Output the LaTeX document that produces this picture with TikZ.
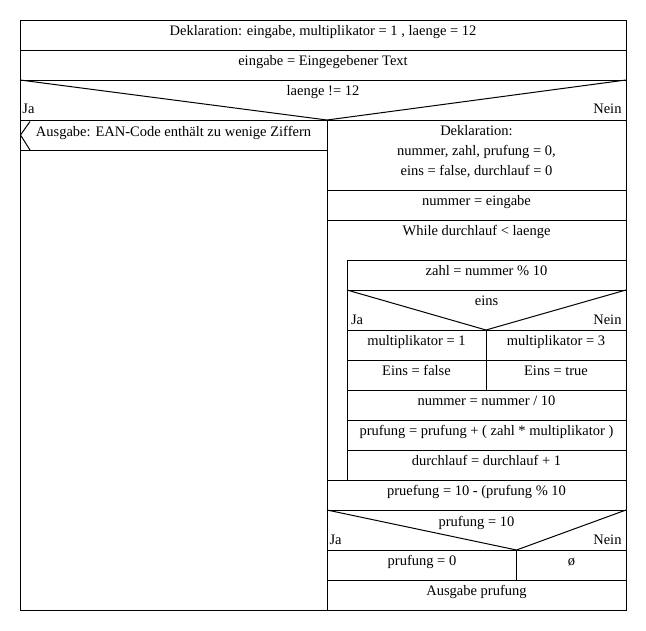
\documentclass[tikz,border=0pt]{standalone}
\usepackage{fontspec}
\setmainfont{Liberation Serif}
\begin{document}
\begin{tikzpicture}[x=1pt,y=-1pt,line width=1pt,
  txt/.style={anchor=base,inner sep=0pt,font=\fontsize{14.5}{17}\selectfont},
  ltxt/.style={txt,anchor=base west},
  rtxt/.style={txt,anchor=base east},
  ln/.style={draw=black,line width=1pt}]
\useasboundingbox (0,0) rectangle (646,630);
% outer frame and top rows
\draw[ln] (20,20) rectangle (626,610);
\draw[ln] (20,50) -- (626,50);
\draw[ln] (20,80) -- (626,80);
\draw[ln] (20,80) -- (327,120) -- (626,80);
\draw[ln] (20,120) -- (626,120);
\draw[ln] (327,120) -- (327,610);
\draw[ln] (20,150) -- (327,150);
\draw[ln] (30,121.5) -- (20.5,135) -- (30,150);
% right branch
\draw[ln] (327,190) -- (626,190);
\draw[ln] (327,220) -- (626,220);
% while body
\draw[ln] (347,260) -- (626,260);
\draw[ln] (347,260) -- (347,480);
\draw[ln] (347,290) -- (626,290);
\draw[ln] (347,290) -- (486,330) -- (626,290);
\draw[ln] (347,330) -- (626,330);
\draw[ln] (486,330) -- (486,390);
\draw[ln] (347,360) -- (626,360);
\draw[ln] (347,390) -- (626,390);
\draw[ln] (347,420) -- (626,420);
\draw[ln] (347,450) -- (626,450);
\draw[ln] (327,480) -- (626,480);
\draw[ln] (327,510) -- (626,510);
\draw[ln] (327,510) -- (516.5,550) -- (626,510);
\draw[ln] (327,550) -- (626,550);
\draw[ln] (516.5,550) -- (516.5,580);
\draw[ln] (327,580) -- (626,580);
% texts
\node[txt] (t1) at (323,35.5) {Deklaration: eingabe, multiplikator = 1 , laenge = 12};
\node[txt] (t2) at (323,65.5) {eingabe = Eingegebener Text};
\node[txt] (t3) at (323,95) {laenge != 12};
\node[ltxt] (ja1) at (22,113.5) {Ja};
\node[rtxt] (nein1) at (622,113.5) {Nein};
\node[txt] (t4) at (173.5,136) {Ausgabe: EAN-Code enthält zu wenige Ziffern};
\node[txt] (t5a) at (476.5,135.5) {Deklaration:};
\node[txt] (t5b) at (476.5,155.5) {nummer, zahl, prufung = 0,};
\node[txt] (t5c) at (476.5,175.5) {eins = false, durchlauf = 0};
\node[txt] (t6) at (476.5,205.5) {nummer = eingabe};
\node[txt] (t7) at (476.5,235.5) {While durchlauf < laenge};
\node[txt] (t8) at (486.5,275.5) {zahl = nummer \% 10};
\node[txt] (t9) at (486.5,305.5) {eins};
\node[ltxt] (ja2) at (350.5,324) {Ja};
\node[rtxt] (nein2) at (622,324) {Nein};
\node[txt] (t10) at (416.5,345.5) {multiplikator = 1};
\node[txt] (t11) at (556,345.5) {multiplikator = 3};
\node[txt] (t12) at (416.5,375.5) {Eins = false};
\node[txt] (t13) at (556,375.5) {Eins = true};
\node[txt] (t14) at (486.5,405.5) {nummer = nummer / 10};
\node[txt] (t15) at (486.5,435.5) {prufung = prufung + ( zahl * multiplikator )};
\node[txt] (t16) at (486.5,465.5) {durchlauf = durchlauf + 1};
\node[txt] (t17) at (476.5,495.5) {pruefung = 10 - (prufung \% 10};
\node[txt] (t18) at (476.5,526) {prufung = 10};
\node[ltxt] (ja3) at (329,544) {Ja};
\node[rtxt] (nein3) at (622,544) {Nein};
\node[txt] (t19) at (422,565.5) {prufung = 0};
\node[txt] (t20) at (571.5,565.5) {ø};
\node[txt] (t21) at (476.5,595.5) {Ausgabe prufung};
\end{tikzpicture}
\end{document}
